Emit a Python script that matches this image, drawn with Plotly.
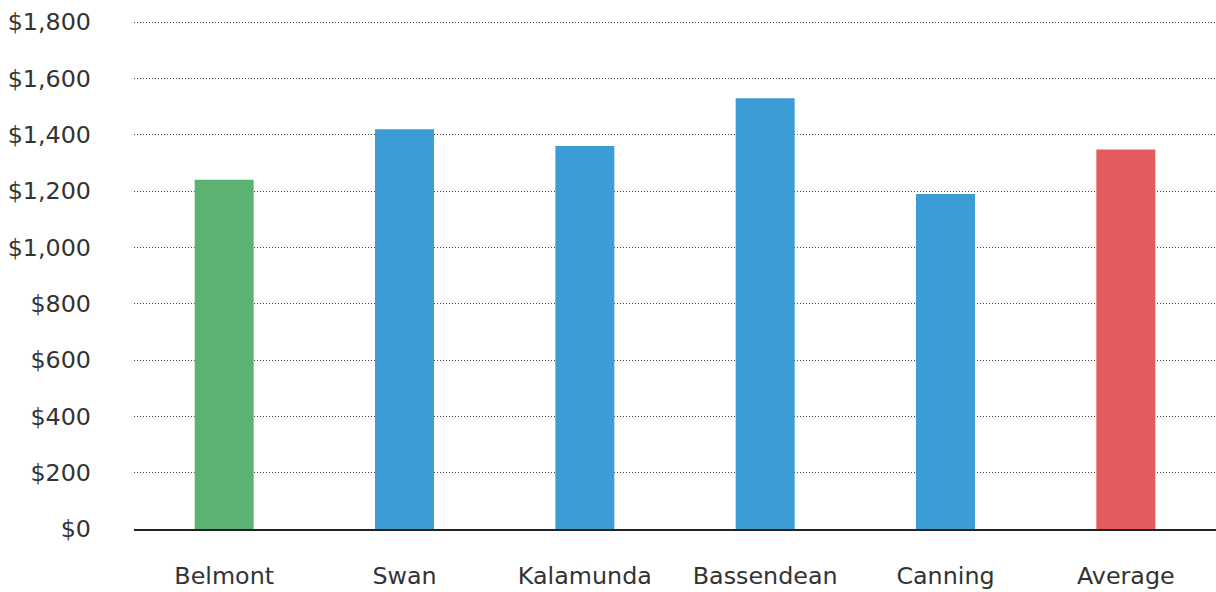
import plotly.graph_objects as go

categories = ["Belmont", "Swan", "Kalamunda", "Bassendean", "Canning", "Average"]
values = [1240, 1420, 1360, 1530, 1190, 1348]
bar_colors = ["#5cb270", "#3c9cd6", "#3c9cd6", "#3c9cd6", "#3c9cd6", "#e35b5d"]
tick_vals = [0, 200, 400, 600, 800, 1000, 1200, 1400, 1600, 1800]
tick_text = ["$0", "$200", "$400", "$600", "$800", "$1,000", "$1,200", "$1,400", "$1,600", "$1,800"]

fig = go.Figure(go.Bar(x=categories, y=values, marker=dict(color=bar_colors, line=dict(width=0)),
                       hoverinfo="x+y"))

fig.update_layout(
    width=1216, height=592,
    margin=dict(l=134, r=0, t=21, b=63),
    paper_bgcolor="white", plot_bgcolor="white",
    font=dict(family="DejaVu Sans, Verdana, sans-serif", size=23.8, color="#333333"),
    bargap=0.673,
    showlegend=False,
    xaxis=dict(showgrid=False, showline=True, linecolor="#222222", linewidth=1.5,
               ticks="", ticklabelstandoff=25),
    yaxis=dict(range=[0, 1804], tickvals=tick_vals, ticktext=tick_text,
               showgrid=True, gridcolor="#444444", griddash="1px,2px", gridwidth=1,
               zeroline=False, showline=False, ticks="", ticklabelstandoff=42),
)

fig.write_html("out.html")
